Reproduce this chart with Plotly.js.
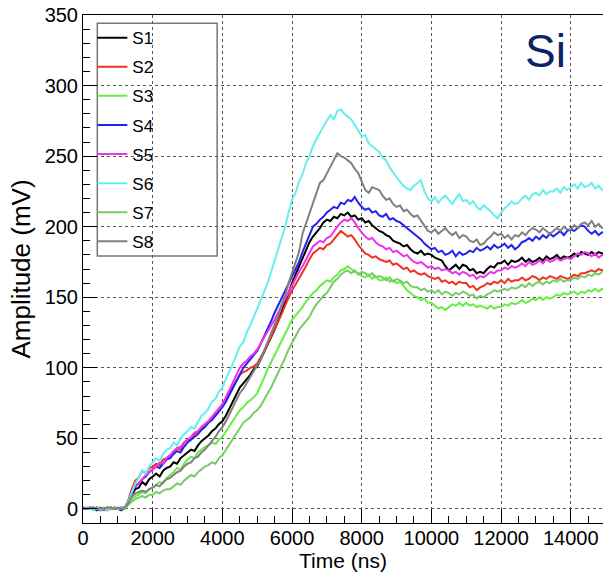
<!DOCTYPE html>
<html><head><meta charset="utf-8">
<script src="https://cdn.plot.ly/plotly-3.0.1.min.js"></script>
<style>html,body{margin:0;padding:0;background:#fff}#chart{width:603px;height:573px}</style>
</head><body><div id="chart"></div>
<script>
const time_ns = [0,100,200,300,400,500,600,700,800,900,1000,1100,1200,1300,1400,1500,1600,1700,1800,1900,2000,2100,2200,2300,2400,2500,2600,2700,2800,2900,3000,3100,3200,3300,3400,3500,3600,3700,3800,3900,4000,4100,4200,4300,4400,4500,4600,4700,4800,4900,5000,5100,5200,5300,5400,5500,5600,5700,5800,5900,6000,6100,6200,6300,6400,6500,6600,6700,6800,6900,7000,7100,7200,7300,7400,7500,7600,7700,7800,7900,8000,8100,8200,8300,8400,8500,8600,8700,8800,8900,9000,9100,9200,9300,9400,9500,9600,9700,9800,9900,10000,10100,10200,10300,10400,10500,10600,10700,10800,10900,11000,11100,11200,11300,11400,11500,11600,11700,11800,11900,12000,12100,12200,12300,12400,12500,12600,12700,12800,12900,13000,13100,13200,13300,13400,13500,13600,13700,13800,13900,14000,14100,14200,14300,14400,14500,14600,14700,14800,14900,15000];

const seriesNames = ['S1','S2','S3','S4','S5','S6','S7','S8'];

const s1 = [0,1,0,0,1,-1,0,0,1,0,0,1,0, 4,10,14,15,19,17,21,23, 25,23,27,29,30, 33,32,36,38,40, 42,41,45,48,50, 52,55,57,60,62, 66,71,75,81,86, 89,92,95,99,101, 106,111,117,122,127, 133,140,146,153,160, 166,172,178,184,189, 193,196,199,203,205, 204,207,206,209,208, 210,207,208,205,206, 203,204,201,199,197, 196,194,193,190,189, 188,186,187,184,182, 181,183,180,181,180, 178,177,176,172,169, 171,173,170,173,172, 169,170,167,168,167, 170,172,171,174,174, 176,173,176,175,176, 178,175,177,175,176, 178,176,179,177,178, 180,177,179,178,179, 181,179,182,181,180, 182,180,182,181,181];

const s2 = [0,0,1,0,0,1,0,-1,0,1,0,1,1, 6,14,20,22,27,25,29,30, 32,31,35,36,38, 40,43,42,47,49, 50,53,55,57,60, 62,65,68,71,74, 78,82,86,91,95, 97,98,100,101,103, 107,112,117,122,127, 133,138,144,150,155, 159,163,167,172,177, 181,183,185,184,187, 188,191,194,197,195, 193,194,191,187,184, 181,180,178,179,177, 176,175,176,173,174, 172,170,171,168,169, 167,166,167,165,164, 163,164,161,162,160, 161,159,161,160,160, 157,158,155,157,158, 160,159,161,160,162, 160,163,161,162,162, 164,162,163,165,164, 162,164,163,165,164, 163,165,164,163,164, 166,165,167,167,168, 169,168,170,169,171];

const s3 = [0,0,0,1,0,-1,0,1,0,0,1,0,0, 3,7,9,10,12,11,14,15, 17,19,18,22,24, 26,29,28,32,35, 37,36,40,42,44, 45,47,46,49,51, 55,58,62,66,70, 72,75,77,79,82, 87,93,99,104,110, 114,119,124,129,134, 137,140,143,147,150, 153,155,158,160,162, 161,164,166,169,170, 172,170,168,167,165, 164,166,163,165,162, 162,164,161,162,160, 161,158,155,153,151, 150,148,149,146,146, 144,142,143,141,143, 145,144,146,144,146, 144,145,143,144,143, 142,144,142,143,143, 145,144,146,145,146, 148,146,147,149,148, 150,148,150,149,150, 152,151,153,152,153, 154,152,154,153,155, 154,156,154,156,155];

const s4 = [0,0,1,0,-1,0,1,0,0,1,0,-1,1, 5,12,16,18,21,23,26,28, 30,29,32,35,36, 39,41,40,44,47, 49,51,53,56,58, 61,63,66,69,72, 76,81,86,91,96, 100,103,106,109,112, 117,122,128,133,139, 144,149,154,160,165, 170,175,182,188,193, 200,202,205,207,210, 212,214,213,217,216, 219,218,221,217,214, 212,213,210,211,208, 207,209,205,206,204, 203,201,199,197,195, 193,191,188,186,184, 185,182,183,180,181, 183,179,182,180,181, 183,182,185,183,184, 186,184,187,185,186, 188,185,187,184,186, 189,190,192,190,193, 191,194,192,195,193, 195,197,194,197,198, 197,199,201,200,197, 195,197,194,196,195];

const s5 = [1,0,0,1,0,0,-1,1,0,1,0,0,1, 5,12,17,18,21,24,26,28, 30,33,32,36,38, 41,43,44,47,49, 51,54,55,58,60, 62,65,68,71,74, 79,84,89,95,100, 103,105,108,110,113, 117,121,125,130,134, 139,143,148,153,158, 163,168,172,177,182, 186,188,190,189,192, 193,197,200,203,205, 204,206,203,199,196, 193,191,192,189,187, 186,184,185,182,183, 181,179,180,177,175, 174,175,173,171,172, 170,171,169,170,169, 167,168,166,168,167, 165,166,163,165,164, 166,168,167,169,169, 171,170,172,171,172, 174,172,175,173,174, 176,174,177,175,176, 178,176,177,178,177, 179,181,180,182,181, 179,181,178,180,179];

const s6 = [0,1,0,-1,1,0,1,-1,0,1,0,1,2, 5,12,18,22,27,25,30,33, 36,34,39,42,43, 47,45,50,53,55, 58,57,62,66,68, 71,76,78,83,86, 92,97,103,109,115, 118,125,130,136,141, 147,153,160,168,176, 183,192,200,210,219, 224,232,237,245,250, 257,262,267,271,275, 279,276,282,283,280, 278,276,272,268,264, 265,259,257,255,253, 249,247,242,238,235, 232,229,227,226,229, 231,233,225,220,218, 221,217,220,222,219, 216,220,223,218,219, 216,218,214,212,215, 213,211,208,206,210, 213,215,218,216,217, 220,222,219,223,224, 222,226,223,225,225, 227,224,228,226,228, 230,227,231,228,229, 231,227,229,226,227];

const s7 = [1,0,1,0,1,0,0,1,0,1,0,1,0, 3,5,7,8,9,8,10,10, 12,11,13,14,14, 16,18,17,20,22, 24,23,26,28,30, 31,33,32,36,38, 42,46,49,53,57, 61,63,65,68,70, 73,78,82,86,91, 96,102,107,113,118, 122,127,130,133,136, 141,145,148,151,153, 157,161,163,166,168, 169,167,169,166,168, 167,165,167,164,165, 164,162,164,161,163, 162,160,161,158,157, 157,155,156,154,155, 153,155,152,154,153, 151,153,152,154,153, 151,152,149,151,150, 152,153,155,154,155, 156,155,157,156,157, 159,157,160,158,160, 161,159,161,160,162, 161,163,161,162,162, 164,163,165,164,166, 165,167,166,168,169];

const s8 = [1,0,1,1,0,1,0,1,1,0,1,0,1, 4,9,11,12,13,12,14,15, 17,16,19,21,22, 24,26,27,30,32, 33,36,37,40,42, 45,48,51,55,58, 62,67,71,77,82, 85,89,93,98,101, 106,112,118,124,130, 137,145,151,160,167, 174,182,195,202,210, 217,224,231,233,238, 243,248,252,250,249, 247,245,241,238,232, 226,224,228,227,226, 222,219,220,216,214, 215,211,212,209,207, 208,204,201,197,196, 198,195,197,199,196, 194,196,192,194,193, 190,189,191,187,188, 191,193,196,194,195, 192,194,191,194,193, 196,194,197,199,198, 196,199,197,195,197, 199,197,200,198,198, 201,199,202,203,201, 204,200,202,199,200];

const seriesData = [s1, s2, s3, s4, s5, s6, s7, s8];
const seriesColors = ['#000000', '#ee3322', '#66ee44', '#2222ee', '#ee33ee', '#66eeee', '#77cc66', '#808080'];

const FONT = 'Liberation Sans, Arial, Helvetica, sans-serif';

const traces = seriesData.map((vals, i) => ({
  type: 'scatter',
  mode: 'lines',
  x: time_ns,
  y: vals,
  name: seriesNames[i],
  legendgroup: 'g' + i,
  line: { color: seriesColors[i], width: 2 },
  hoverinfo: 'skip'
}));

const axisCommon = {
  ticks: 'inside',
  ticklen: 14,
  tickwidth: 1,
  tickcolor: '#000',
  showline: true,
  linecolor: '#000',
  linewidth: 1,
  mirror: true,
  showgrid: true,
  gridcolor: '#555',
  griddash: 'dot',
  gridwidth: 1,
  zeroline: false,
  exponentformat: 'none',
  separatethousands: false,
  tickformat: 'd',
  tickfont: { family: FONT, size: 20, color: '#000' }
};

const layout = {
  width: 603,
  height: 573,
  margin: { l: 83, r: 0, t: 15, b: 50, pad: 0 },
  paper_bgcolor: '#fff',
  plot_bgcolor: '#fff',
  font: { family: FONT, color: '#000' },
  showlegend: true,
  xaxis: Object.assign({}, axisCommon, {
    range: [0, 14925],
    tick0: 0,
    dtick: 2000,
    ticklabelstandoff: -3,
    title: { text: 'Time (ns)', font: { family: FONT, size: 21, color: '#000' }, standoff: 0 },
    minor: { dtick: 500, ticks: 'inside', ticklen: 7, tickcolor: '#000', showgrid: false }
  }),
  yaxis: Object.assign({}, axisCommon, {
    range: [-10, 350.01],
    tick0: 0,
    dtick: 50,
    title: { text: 'Amplitude (mV)', font: { family: FONT, size: 26, color: '#000' }, standoff: 6 },
    minor: { dtick: 10, ticks: 'inside', ticklen: 7, tickcolor: '#000', showgrid: false }
  }),
  legend: {
    x: 0.018,
    y: 0.99,
    xanchor: 'left',
    yanchor: 'top',
    bgcolor: 'rgba(0,0,0,0)',
    borderwidth: 0,
    font: { family: FONT, size: 17, color: '#000' },
    traceorder: 'grouped',
    tracegroupgap: 4,
    itemwidth: 30
  },
  shapes: [{
    type: 'rect', xref: 'paper', yref: 'paper',
    x0: 0.0275, x1: 0.258, y0: 0.5256, y1: 0.984,
    line: { color: '#777', width: 1.5 },
    fillcolor: '#fff',
    layer: 'between'
  }],
  annotations: [{
    text: 'Si',
    xref: 'paper', yref: 'paper',
    x: 0.8885, y: 0.930,
    xanchor: 'center', yanchor: 'middle',
    showarrow: false,
    font: { family: FONT, size: 46, color: '#0b2265' }
  }]
};

Plotly.newPlot('chart', traces, layout, { staticPlot: true, displayModeBar: false });
</script>
</body></html>
